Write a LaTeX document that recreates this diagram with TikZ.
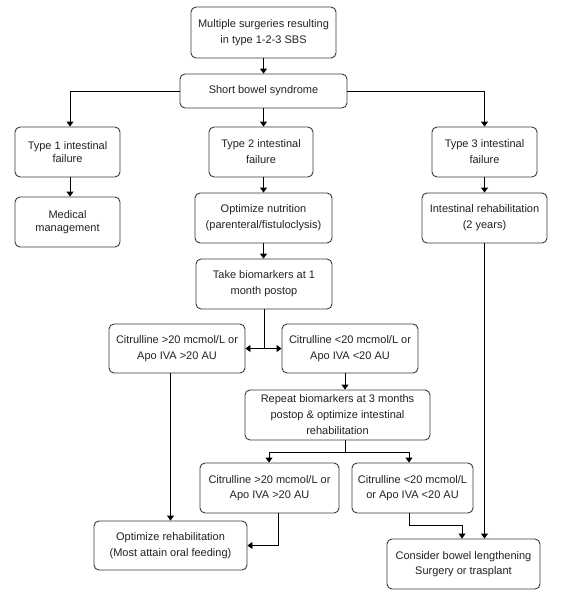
\documentclass[tikz,border=0pt]{standalone}
\usepackage{fontspec}
\setmainfont{Liberation Sans}
\usetikzlibrary{arrows.meta}
\definecolor{boxline}{HTML}{3A3A3A}
\definecolor{txt}{HTML}{222222}
\tikzset{
  box/.style={rectangle, rounded corners=5pt, draw=boxline, line width=0.9pt,
    align=center, inner sep=0pt, text=txt, font=\fontsize{11}{16}\selectfont},
  tight/.style={font=\fontsize{11}{13}\selectfont},
  arr/.style={-{Triangle[length=5pt,width=7pt]}, line width=0.9pt, draw=black},
  ln/.style={line width=0.9pt, draw=black}
}
\begin{document}
\begin{tikzpicture}[x=1pt,y=-1pt]
\useasboundingbox (0,0) rectangle (567,597);
\fill[white] (0,0) rectangle (567,597);
% nodes
\node[box, minimum width=145pt, minimum height=51pt] (top) at (263.5,32.5) {Multiple surgeries resulting\\in type 1-2-3 SBS};
\node[box, minimum width=167pt, minimum height=34pt] (sbs) at (263.5,91) {Short bowel syndrome};
\node[box, tight, minimum width=105pt, minimum height=50pt] (t1) at (67.5,152) {Type 1 intestinal\\failure};
\node[box, minimum width=104pt, minimum height=50pt] (t2) at (261,152) {Type 2 intestinal\\failure};
\node[box, minimum width=105pt, minimum height=50pt] (t3) at (484.5,152) {Type 3 intestinal\\failure};
\node[box, tight, minimum width=105pt, minimum height=50pt] (med) at (67.5,222) {Medical\\management};
\node[box, minimum width=137pt, minimum height=50pt] (optn) at (263.5,218) {Optimize nutrition\\(parenteral/fistuloclysis)};
\node[box, minimum width=125pt, minimum height=50pt] (rehab) at (484.5,218) {Intestinal rehabilitation\\(2 years)};
\node[box, minimum width=136pt, minimum height=50pt] (take) at (264,284) {Take biomarkers at 1\\month postop};
\node[box, minimum width=136pt, minimum height=49pt] (citL) at (177,348.5) {Citrulline >20 mcmol/L or\\Apo IVA >20 AU};
\node[box, minimum width=136pt, minimum height=49pt] (citR) at (350,348.5) {Citrulline <20 mcmol/L or\\Apo IVA <20 AU};
\node[box, minimum width=185pt, minimum height=50pt] (rep) at (337.5,415) {Repeat biomarkers at 3 months\\postop \& optimize intestinal\\rehabilitation};
\node[box, font=\fontsize{11}{15}\selectfont, minimum width=139pt, minimum height=50pt] (citLL) at (269.5,488) {Citrulline >20 mcmol/L or\\Apo IVA >20 AU};
\node[box, font=\fontsize{11}{15}\selectfont, minimum width=121pt, minimum height=50pt] (citRR) at (412.5,488) {Citrulline <20 mcmol/L\\or Apo IVA <20 AU};
\node[box, minimum width=153pt, minimum height=49pt] (orehab) at (170.5,545.5) {Optimize rehabilitation\\(Most attain oral feeding)};
\node[box, font=\fontsize{11}{15}\selectfont, minimum width=153pt, minimum height=50pt] (cons) at (463.5,564) {Consider bowel lengthening\\Surgery or trasplant};
% connectors
\draw[arr] (top.south) -- (sbs.north);
\draw[arr] (sbs.west) -| ([xshift=2.5pt]t1.north);
\draw[arr] (sbs.south) -- (sbs.south |- t2.north);
\draw[arr] (sbs.east) -| (rehab.north |- t3.north);
\draw[arr] ([xshift=2.5pt]t1.south) -- ([xshift=2.5pt]med.north);
\draw[arr] (sbs.south |- t2.south) -- (sbs.south |- optn.north);
\draw[arr] (rehab.north |- t3.south) -- (rehab.north);
\draw[arr] (optn.south) -- (optn.south |- take.north);
\coordinate (j1) at (take.south |- citL.east);
\draw[ln] (take.south) -- (j1);
\draw[arr] (j1) -- (citL.east);
\draw[arr] (j1) -- (citR.west);
\draw[arr] ([xshift=-5pt]citR.south) -- ([xshift=-5pt]citR.south |- rep.north);
\coordinate (j2) at ([xshift=7.5pt]rep.south);
\coordinate (j3) at ([xshift=7.5pt,yshift=-12pt]rep.south);
\draw[ln] (j2) -- (j3);
\draw[arr] (j3) -| ([xshift=-0.5pt]citLL.north);
\draw[arr] (j3) -| ([xshift=-3.5pt]citRR.north);
\draw[arr] (orehab.north |- citL.south) -- (orehab.north);
\draw[arr] ([xshift=8.5pt]citLL.south) |- (orehab.east);
\coordinate (j4) at ([xshift=-3.5pt,yshift=-12pt]citRR.south);
\draw[ln] ([xshift=-3.5pt]citRR.south) -- (j4);
\draw[arr] (j4) -| ([xshift=-1.5pt]cons.north);
\draw[arr] (rehab.south) -- (rehab.south |- cons.north);
\end{tikzpicture}
\end{document}
